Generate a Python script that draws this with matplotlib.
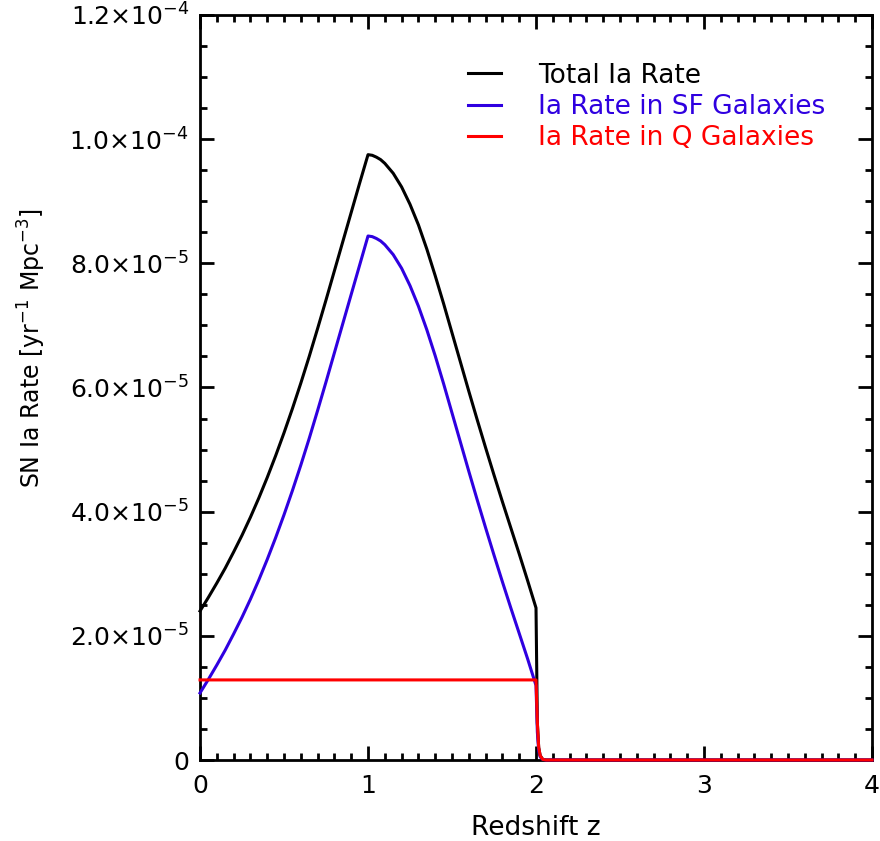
import matplotlib
matplotlib.use('Agg')
import matplotlib.pyplot as plt
from matplotlib.ticker import MultipleLocator, FuncFormatter

# rates in units of 1e-5 yr^-1 Mpc^-3
z_vals = [0.0, 0.05, 0.1, 0.15, 0.2, 0.25, 0.3, 0.35, 0.4, 0.45, 0.5,
          0.55, 0.6, 0.65, 0.7, 0.75, 0.8, 0.85, 0.9, 0.95, 1.0,
          1.025, 1.05, 1.075, 1.1, 1.15, 1.2, 1.25, 1.3, 1.35, 1.4,
          1.45, 1.5, 1.55, 1.6, 1.65, 1.7, 1.75, 1.8, 1.85, 1.9, 1.95, 2.0,
          2.008, 2.016, 2.025, 2.04, 2.06, 4.0]
rate_total = [2.40, 2.62, 2.85, 3.09, 3.35, 3.62, 3.91, 4.22, 4.55, 4.90, 5.27,
              5.66, 6.07, 6.50, 6.95, 7.41, 7.88, 8.35, 8.82, 9.29, 9.75,
              9.74, 9.71, 9.67, 9.61, 9.45, 9.23, 8.95, 8.62, 8.23, 7.80,
              7.35, 6.88, 6.41, 5.94, 5.48, 5.03, 4.59, 4.16, 3.74, 3.32, 2.89, 2.45,
              0.60, 0.20, 0.07, 0.01, 0.0, 0.0]
rate_sf = [1.08, 1.30, 1.53, 1.77, 2.03, 2.30, 2.59, 2.90, 3.23, 3.58, 3.95,
           4.34, 4.75, 5.18, 5.63, 6.09, 6.56, 7.03, 7.50, 7.97, 8.44,
           8.43, 8.40, 8.36, 8.30, 8.14, 7.92, 7.64, 7.31, 6.93, 6.51,
           6.06, 5.59, 5.12, 4.65, 4.19, 3.74, 3.30, 2.87, 2.45, 2.04, 1.63, 1.20,
           0.45, 0.15, 0.05, 0.01, 0.0, 0.0]
z_q = [0.0, 2.0, 2.008, 2.016, 2.025, 2.04, 2.06, 4.0]
rate_q = [1.29, 1.29, 0.60, 0.20, 0.07, 0.01, 0.0, 0.0]

labels = ["Total Ia Rate", "Ia Rate in SF Galaxies", "Ia Rate in Q Galaxies"]
colores = ["black", "#2f00e0", "#ff0000"]

scale = 1e-5

fig = plt.figure(figsize=(8.8, 8.41), dpi=100)
ax = fig.add_axes([0.2273, 0.0963, 0.7636, 0.8859])

for zz, serie, lab, col in zip([z_vals, z_vals, z_q], [rate_total, rate_sf, rate_q],
                               labels, colores):
    ax.plot(zz, [v * scale for v in serie], color=col, lw=2.2,
            label=lab, zorder=3, clip_on=False, solid_joinstyle='round')

ax.set_xlim(0, 4)
ax.set_ylim(0, 1.2e-4)

ax.xaxis.set_major_locator(MultipleLocator(1))
ax.xaxis.set_minor_locator(MultipleLocator(0.1))
ax.yaxis.set_major_locator(MultipleLocator(2e-5))
ax.yaxis.set_minor_locator(MultipleLocator(0.5e-5))

def fmt_y(v, pos):
    if abs(v) < 1e-12:
        return "0"
    exp = int(f"{v:.1e}".split("e")[1])
    mant = v / 10 ** exp
    return r"$%.1f{\times}10^{%d}$" % (mant, exp)

ax.yaxis.set_major_formatter(FuncFormatter(fmt_y))
ax.xaxis.set_major_formatter(FuncFormatter(lambda v, p: "%d" % v))

ax.tick_params(which='both', direction='in', top=True, right=True,
               labelsize=18, width=2)
ax.tick_params(which='major', length=10)
ax.tick_params(axis='x', which='major', pad=10)
ax.tick_params(axis='y', which='major', pad=8)
ax.tick_params(which='minor', length=5)
for sp in ax.spines.values():
    sp.set_linewidth(2)

ax.set_xlabel("Redshift z", fontsize=19, labelpad=12)
ax.set_ylabel(r"SN Ia Rate [yr$^{-1}$ Mpc$^{-3}$]", fontsize=17)
ax.yaxis.set_label_coords(-0.226, 0.553)

ax.legend(loc='upper left', frameon=False, fontsize=19, labelcolor='linecolor',
          handlelength=1.25, handletextpad=1.4, labelspacing=0.2,
          borderpad=0, borderaxespad=0, bbox_to_anchor=(0.399, 0.936))

plt.savefig("out.png", dpi=100)
plt.close()
